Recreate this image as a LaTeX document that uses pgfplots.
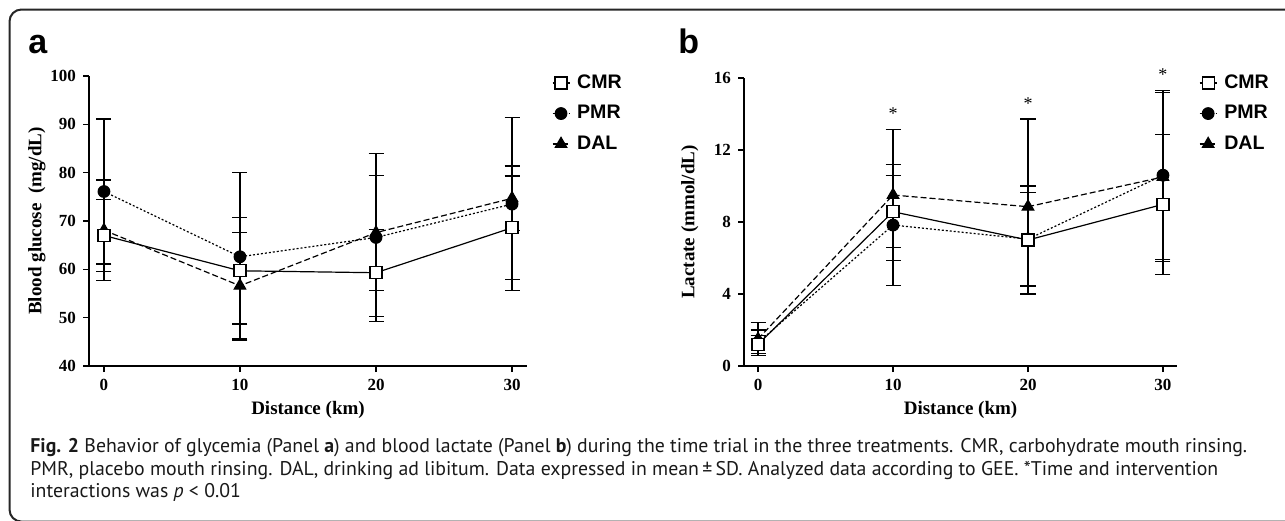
\documentclass[border=0pt]{standalone}
\usepackage{fontspec}
\setmainfont{Liberation Serif}
\newfontfamily\arialf{Liberation Sans}
\newfontfamily\capf{PT Sans}
\usepackage{pgfplots}
\pgfplotsset{compat=1.18}

\pgfplotsset{
  panel/.style={
    scale only axis, clip=false,
    axis x line*=bottom, axis y line*=left,
    axis line style={line width=0.75pt, -},
    tick style={line width=0.75pt, black},
    tick align=outside, major tick length=3pt,
    xmin=-1.1, xmax=31.1, xtick={0,10,20,30},
    tick label style={font=\fontsize{8.5}{9}\selectfont\bfseries},
    /pgf/number format/assume math mode=true,
    label style={font=\fontsize{9.5}{10}\selectfont\bfseries},
    xlabel={Distance (km)},
    reverse legend,
    legend style={draw=none, fill=none, anchor=north west, inner sep=0pt,
      font=\arialf\bfseries\fontsize{9.8}{10}\selectfont,
      row sep=3pt, cells={anchor=west},
      /tikz/every odd column/.append style={column sep=1.5pt}},
    legend image code/.code={\draw[mark repeat=2, mark phase=2, #1]
      plot coordinates {(0pt,0pt) (4.25pt,0pt) (8.5pt,0pt)};},
  },
  eb/.style={
    error bars/y dir=both, error bars/y explicit,
    error bars/error bar style={line width=0.6pt, solid, black},
    error bars/error mark options={rotate=90, mark size=3.75pt, line width=0.6pt, solid, black}},
  cmr/.style={black, line width=0.6pt, solid, mark=square*,
    mark options={fill=white, solid, mark size=3pt, line width=0.6pt}},
  pmr/.style={black, line width=0.6pt, dash pattern=on 1pt off 1pt, mark=*,
    mark options={fill=black, solid, mark size=2.9pt}},
  dal/.style={black, line width=0.6pt, dash pattern=on 3pt off 1.5pt, mark=triangle*,
    mark options={fill=black, solid, mark size=3.3pt}},
}

\begin{document}
\begin{tikzpicture}[x=1pt, y=1pt]
\useasboundingbox (0,0) rectangle (642.5,-260);
\draw[line width=1pt, black!85, rounded corners=6pt]
  (660,-260.8) -- (4.75,-260.8) -- (4.75,-4.75) -- (660,-4.75);

\node[anchor=base west, inner sep=0pt, font=\arialf\bfseries\fontsize{17}{17}\selectfont] at (14,-26.5) {a};
\node[anchor=base west, inner sep=0pt, font=\arialf\bfseries\fontsize{17}{17}\selectfont] at (339,-26.5) {b};

% panel a: blood glucose
\begin{axis}[panel, at={(44.5pt,-183pt)}, anchor=south west,
  width=219pt, height=145pt,
  ymin=40, ymax=100, ytick={40,50,...,100},
  ylabel={Blood glucose\ \ (mg/dL)},
  ylabel style={at={(axis description cs:-0.119,0.5)}, anchor=center},
  xlabel style={at={(axis description cs:0.5,-0.152)}, anchor=center},
  legend style={at={(axis description cs:1.056,1.02)}},
]
\addplot[dal, eb] coordinates {
  (0,68.1) +- (0,10.4) (10,56.6) +- (0,11) (20,67.6) +- (0,11.9) (30,74.7) +- (0,6.7)};
\addlegendentry{DAL}
\addplot[pmr, eb] coordinates {
  (0,76.1) +- (0,15) (10,62.6) +- (0,17.4) (20,66.6) +- (0,17.4) (30,73.5) +- (0,17.9)};
\addlegendentry{PMR}
\addplot[cmr, eb] coordinates {
  (0,67.0) +- (0,7.5) (10,59.7) +- (0,11) (20,59.3) +- (0,9) (30,68.6) +- (0,10.7)};
\addlegendentry{CMR}
\end{axis}

% panel b: lactate
\begin{axis}[panel, at={(372pt,-183pt)}, anchor=south west,
  width=216.5pt, height=144pt,
  xmin=-1.04, xmax=31.04,
  ymin=0, ymax=16, ytick={0,4,...,16},
  ylabel={Lactate (mmol/dL)},
  ylabel style={at={(axis description cs:-0.125,0.5)}, anchor=center},
  xlabel style={at={(axis description cs:0.5,-0.153)}, anchor=center},
  legend style={at={(axis description cs:1.05,1.027)}},
]
\addplot[dal, eb] coordinates {
  (0,1.5) +- (0,0.9) (10,9.5) +- (0,3.65) (20,8.85) +- (0,4.87) (30,10.5) +- (0,4.7)};
\addlegendentry{DAL}
\addplot[pmr, eb] coordinates {
  (0,1.3) +- (0,0.7) (10,7.83) +- (0,3.37) (20,7.05) +- (0,2.6) (30,10.6) +- (0,4.7)};
\addlegendentry{PMR}
\addplot[cmr, eb] coordinates {
  (0,1.2) +- (0,0.5) (10,8.57) +- (0,2.0) (20,7.0) +- (0,3.0) (30,8.98) +- (0,3.9)};
\addlegendentry{CMR}
% significance markers
\addplot[forget plot, only marks, mark=text, text mark={\fontsize{9}{9}\selectfont *}]
  coordinates {(10,14.0) (20,14.6) (30,16.2)};
\end{axis}

\begin{scope}[every node/.style={anchor=base west, inner sep=0pt, text=black!90,
    font=\capf\fontsize{9.9}{11}\selectfont}]
\node at (15,-226) {\textbf{Fig. 2} Behavior of glycemia (Panel \textbf{a}) and blood lactate (Panel \textbf{b}) during the time trial in the three treatments. CMR, carbohydrate mouth rinsing.};
\node at (15,-237.5) {PMR, placebo mouth rinsing. DAL, drinking ad libitum. Data expressed in mean\,±\,SD. Analyzed data according to GEE. *Time and intervention};
\node at (15,-248.5) {interactions was \textit{p} < 0.01};
\end{scope}
\end{tikzpicture}
\end{document}
